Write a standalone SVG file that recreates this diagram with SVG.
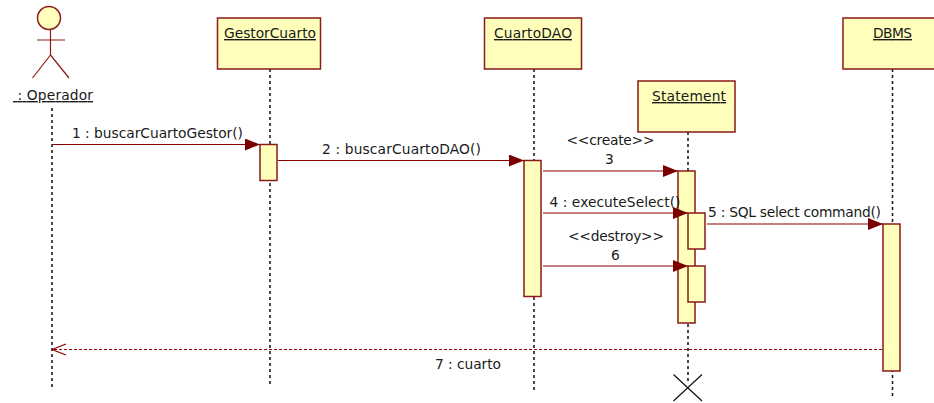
<svg xmlns="http://www.w3.org/2000/svg" width="934" height="403" viewBox="0 0 934 403">
<style>
text{font-family:"DejaVu Sans",Verdana,sans-serif;font-size:13.8px;fill:#1a1a1a;}
.n{text-decoration:underline;}
.box{fill:#ffffbb;stroke:#8b1a1a;stroke-width:1.5;}
.life{stroke:#111;stroke-width:1.5;stroke-dasharray:3 3;fill:none;}
.msg{stroke:#8b0000;stroke-width:1.2;fill:none;}
.ret{stroke:#990000;stroke-width:1;stroke-dasharray:3 2;fill:none;}
.act{stroke:#8b1a1a;stroke-width:1.2;fill:none;}
</style>
<defs>
<marker id="solid" markerUnits="userSpaceOnUse" markerWidth="16" markerHeight="14" refX="15" refY="6" orient="auto"><path d="M0 0L15 6L0 12Z" fill="#7a0000"/></marker>
<marker id="open" markerUnits="userSpaceOnUse" markerWidth="16" markerHeight="14" refX="14.500" refY="6" orient="auto"><path d="M0.500 0.500L14.500 6L0.500 11.500" fill="none" stroke="#8b0000" stroke-width="1.200"/></marker>
</defs>
<g id="lifelines">
<line class="life" x1="52" y1="108" x2="52" y2="387"/>
<line class="life" x1="270" y1="69" x2="270" y2="387"/>
<line class="life" x1="534" y1="69" x2="534" y2="393"/>
<line class="life" x1="688" y1="132" x2="688" y2="384"/>
<line class="life" x1="892.500" y1="69" x2="892.500" y2="397"/>
</g>
<g id="operador">
<circle class="box" cx="49" cy="18" r="11.500"/>
<path class="act" d="M50.500 30V55M37 40H65M50.500 55L32.500 78M50.500 55L69 78"/>
<text class="n" x="13" y="100" textLength="80">&#160;: Operador</text>
</g>
<g id="gestorcuarto"><rect class="box" x="217.500" y="18" width="103" height="51"/><text class="n" x="224" y="38" textLength="92">GestorCuarto</text></g>
<g id="cuartodao"><rect class="box" x="484.500" y="18" width="97" height="51"/><text class="n" x="494" y="38" textLength="78">CuartoDAO</text></g>
<g id="statement"><rect class="box" x="638" y="81" width="97" height="51"/><text class="n" x="652" y="101" textLength="74">Statement</text></g>
<g id="dbms"><rect class="box" x="843" y="18" width="100" height="51"/><text class="n" x="873" y="38" textLength="39">DBMS</text></g>
<g id="activations">
<rect class="box" x="260" y="144.500" width="17" height="36"/>
<rect class="box" x="524" y="160.500" width="17" height="136"/>
<rect class="box" x="678" y="171" width="17" height="152"/>
<rect class="box" x="688" y="213" width="17" height="36"/>
<rect class="box" x="688" y="266" width="17" height="36"/>
<rect class="box" x="883" y="224" width="17" height="147"/>
</g>
<g id="connectors">
<line class="msg" x1="53" y1="144.500" x2="260" y2="144.500" marker-end="url(#solid)"/>
<line class="msg" x1="278" y1="160.500" x2="524" y2="160.500" marker-end="url(#solid)"/>
<line class="msg" x1="543" y1="171" x2="678" y2="171" marker-end="url(#solid)"/>
<line class="msg" x1="543" y1="213" x2="688" y2="213" marker-end="url(#solid)"/>
<line class="msg" x1="707" y1="224" x2="883" y2="224" marker-end="url(#solid)"/>
<line class="msg" x1="543" y1="266" x2="688" y2="266" marker-end="url(#solid)"/>
<line class="ret" x1="882" y1="349.500" x2="52" y2="349.500" marker-end="url(#open)"/>
</g>
<g id="labels">
<text x="72" y="138" textLength="171">1 : buscarCuartoGestor()</text>
<text x="322" y="154" textLength="159">2 : buscarCuartoDAO()</text>
<text x="566.500" y="145" textLength="88">&lt;&lt;create&gt;&gt;</text>
<text x="605" y="164">3</text>
<text x="549.500" y="207" textLength="131">4 : executeSelect()</text>
<text x="708" y="217" textLength="173">5 : SQL select command()</text>
<text x="568" y="241" textLength="96">&lt;&lt;destroy&gt;&gt;</text>
<text x="611" y="260">6</text>
<text x="435" y="369" textLength="66">7 : cuarto</text>
</g>
<g id="destroy"><path d="M673.500 374.500L702 401M702 374.500L673.500 401" stroke="#111" stroke-width="1.200" fill="none"/></g>
</svg>
